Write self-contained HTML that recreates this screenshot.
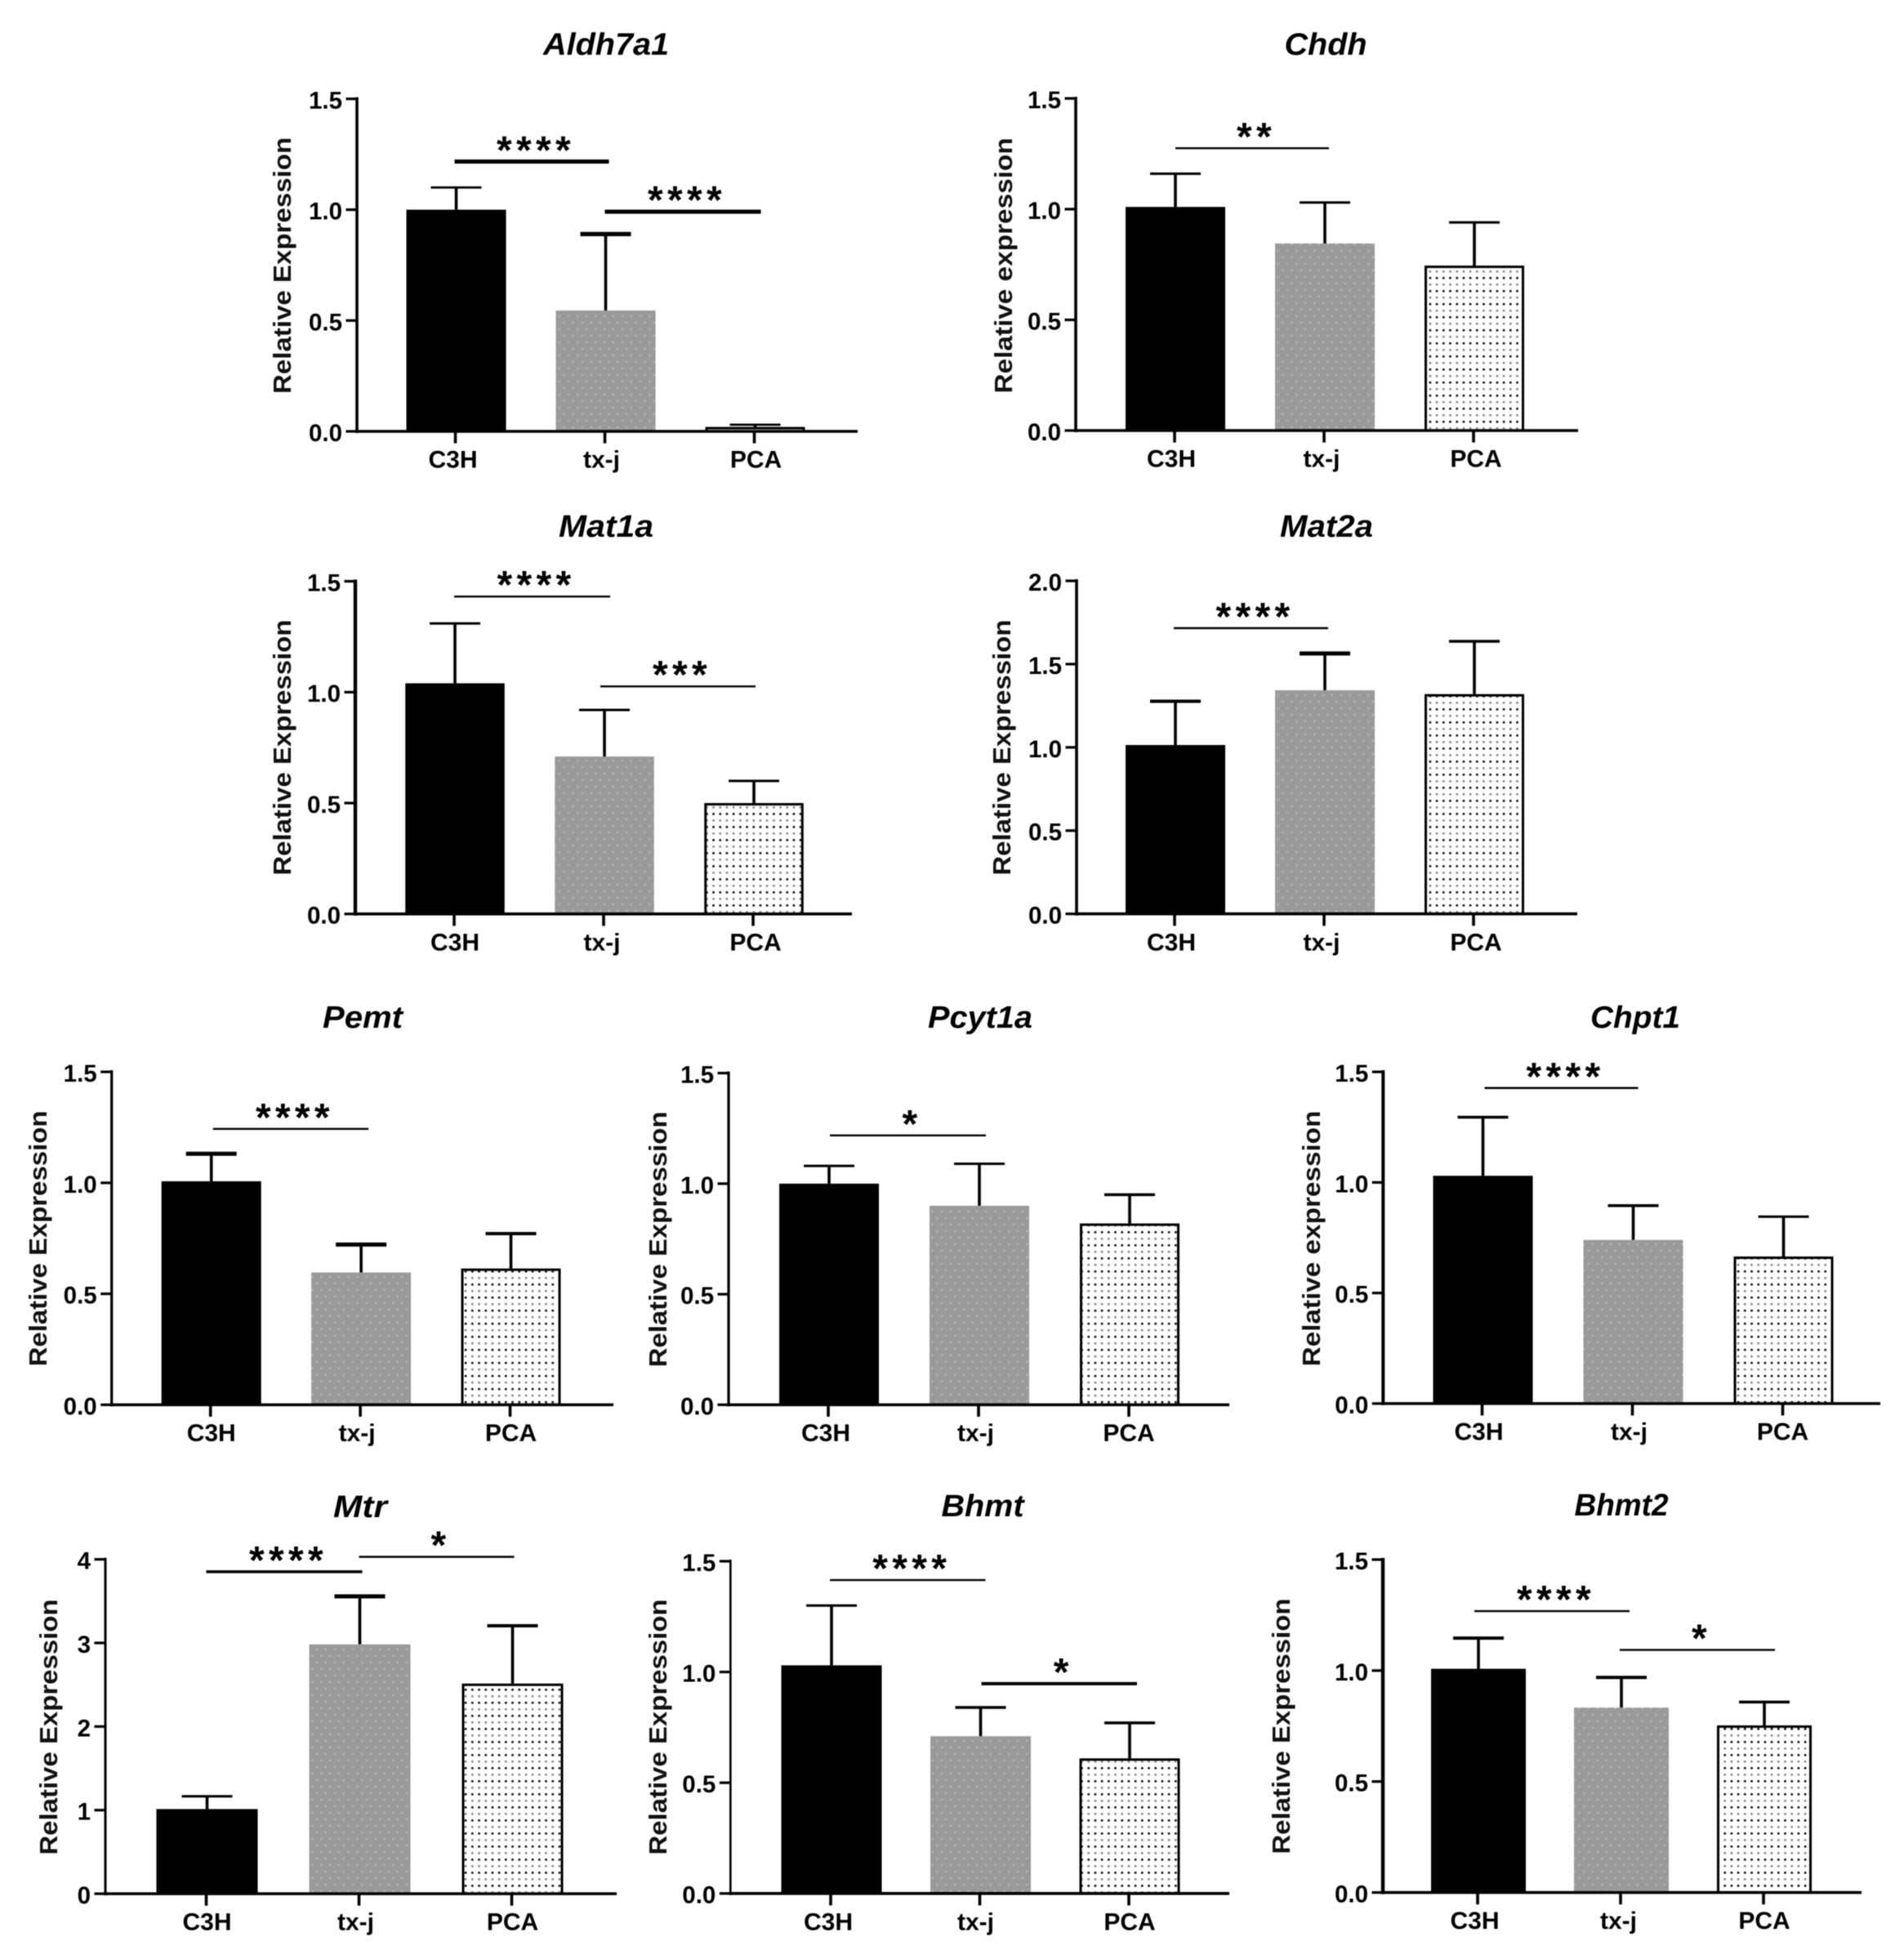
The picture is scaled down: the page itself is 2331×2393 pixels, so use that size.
<!DOCTYPE html>
<html lang="en">
<head>
<meta charset="utf-8">
<title>Relative expression of one-carbon metabolism genes</title>
<style>
html,body{margin:0;padding:0;background:#fff;}
svg{display:block;filter:blur(0.5px);}
text{font-family:"Liberation Sans",Arial,sans-serif;fill:#000;}
.t{font-weight:bold;font-style:italic;font-size:38px;text-anchor:middle;}
.yt{font-weight:bold;font-size:31px;text-anchor:middle;fill:#111;}
</style>
</head>
<body>
<svg id="figure" xmlns="http://www.w3.org/2000/svg" width="2331" height="2393" viewBox="0 0 2331 2393">
  <defs>
    <pattern id="greyDots" patternUnits="userSpaceOnUse" width="11" height="16">
      <rect width="11" height="16" fill="#9a9a9a"/>
      <rect x="2" y="2" width="2" height="2" fill="#bcbcbc"/>
      <rect x="7.5" y="10" width="2" height="2" fill="#bcbcbc"/>
    </pattern>
    <pattern id="blackDots" patternUnits="userSpaceOnUse" width="8.2" height="16">
      <rect width="8.2" height="16" fill="#fff"/>
      <rect x="3" y="3" width="2.6" height="2.6" fill="#111"/>
      <rect x="3" y="11" width="2.6" height="2.6" fill="#888"/>
    </pattern>
  </defs>
  <rect width="2331" height="2393" fill="#fff"/>

  <g id="panel-aldh7a1">
    <text class="t" x="742" y="67" textLength="154" lengthAdjust="spacingAndGlyphs">Aldh7a1</text>
    <text class="yt" transform="translate(356,325) rotate(-90)" textLength="314" lengthAdjust="spacingAndGlyphs">Relative Expression</text>
  </g>
  <g id="panel-chdh">
    <text class="t" x="1623" y="67" textLength="101" lengthAdjust="spacingAndGlyphs">Chdh</text>
    <text class="yt" transform="translate(1239,325) rotate(-90)" textLength="313" lengthAdjust="spacingAndGlyphs">Relative expression</text>
  </g>
  <g id="panel-mat1a">
    <text class="t" x="742" y="657" textLength="116" lengthAdjust="spacingAndGlyphs">Mat1a</text>
    <text class="yt" transform="translate(356,915) rotate(-90)" textLength="313" lengthAdjust="spacingAndGlyphs">Relative Expression</text>
  </g>
  <g id="panel-mat2a">
    <text class="t" x="1624" y="657" textLength="114" lengthAdjust="spacingAndGlyphs">Mat2a</text>
    <text class="yt" transform="translate(1237,915) rotate(-90)" textLength="313" lengthAdjust="spacingAndGlyphs">Relative Expression</text>
  </g>
  <g id="panel-pemt">
    <text class="t" x="444" y="1258" textLength="98" lengthAdjust="spacingAndGlyphs">Pemt</text>
    <text class="yt" transform="translate(57,1516) rotate(-90)" textLength="313" lengthAdjust="spacingAndGlyphs">Relative Expression</text>
  </g>
  <g id="panel-pcyt1a">
    <text class="t" x="1200" y="1258" textLength="128" lengthAdjust="spacingAndGlyphs">Pcyt1a</text>
    <text class="yt" transform="translate(816,1517) rotate(-90)" textLength="313" lengthAdjust="spacingAndGlyphs">Relative Expression</text>
  </g>
  <g id="panel-chpt1">
    <text class="t" x="2002" y="1258" textLength="110" lengthAdjust="spacingAndGlyphs">Chpt1</text>
    <text class="yt" transform="translate(1616,1516) rotate(-90)" textLength="313" lengthAdjust="spacingAndGlyphs">Relative expression</text>
  </g>
  <g id="panel-mtr">
    <text class="t" x="441" y="1857" textLength="66" lengthAdjust="spacingAndGlyphs">Mtr</text>
    <text class="yt" transform="translate(70,2114) rotate(-90)" textLength="313" lengthAdjust="spacingAndGlyphs">Relative Expression</text>
  </g>
  <g id="panel-bhmt">
    <text class="t" x="1203" y="1856" textLength="101" lengthAdjust="spacingAndGlyphs">Bhmt</text>
    <text class="yt" transform="translate(816,2114) rotate(-90)" textLength="313" lengthAdjust="spacingAndGlyphs">Relative Expression</text>
  </g>
  <g id="panel-bhmt2">
    <text class="t" x="1985" y="1855" textLength="115" lengthAdjust="spacingAndGlyphs">Bhmt2</text>
    <text class="yt" transform="translate(1579,2113) rotate(-90)" textLength="313" lengthAdjust="spacingAndGlyphs">Relative Expression</text>
  </g>
</svg>
<script>
// ---- chart data ----
const categories = ["C3H", "tx-j", "PCA"];
const ticks15 = ["0.0", "0.5", "1.0", "1.5"];
const ticks20 = ["0.0", "0.5", "1.0", "1.5", "2.0"];
const ticks4 = ["0", "1", "2", "3", "4"];

const aldh7a1Means = [1.0, 0.545, 0.02];
const aldh7a1ErrorTops = [1.10, 0.89, 0.03];
const aldh7a1SigLevels = [1.217, 0.991];
const aldh7a1SigLabels = ["****", "****"];

const chdhMeans = [1.01, 0.845, 0.745];
const chdhErrorTops = [1.16, 1.03, 0.94];
const chdhSigLevels = [1.275];
const chdhSigLabels = ["**"];

const mat1aMeans = [1.04, 0.71, 0.50];
const mat1aErrorTops = [1.31, 0.92, 0.60];
const mat1aSigLevels = [1.431, 1.026];
const mat1aSigLabels = ["****", "***"];

const mat2aMeans = [1.014, 1.343, 1.32];
const mat2aErrorTops = [1.277, 1.564, 1.637];
const mat2aSigLevels = [1.716];
const mat2aSigLabels = ["****"];

const pemtMeans = [1.007, 0.596, 0.614];
const pemtErrorTops = [1.131, 0.722, 0.771];
const pemtSigLevels = [1.243];
const pemtSigLabels = ["****"];

const pcyt1aMeans = [1.0, 0.90, 0.82];
const pcyt1aErrorTops = [1.08, 1.09, 0.95];
const pcyt1aSigLevels = [1.218];
const pcyt1aSigLabels = ["*"];

const chpt1Means = [1.03, 0.74, 0.665];
const chpt1ErrorTops = [1.295, 0.895, 0.845];
const chpt1SigLevels = [1.427];
const chpt1SigLabels = ["****"];

const mtrMeans = [1.013, 2.983, 2.514];
const mtrErrorTops = [1.165, 3.557, 3.205];
const mtrSigLevels = [3.852, 4.03];
const mtrSigLabels = ["****", "*"];

const bhmtMeans = [1.03, 0.71, 0.61];
const bhmtErrorTops = [1.30, 0.84, 0.77];
const bhmtSigLevels = [1.415, 0.947];
const bhmtSigLabels = ["****", "*"];

const bhmt2Means = [1.008, 0.833, 0.753];
const bhmt2ErrorTops = [1.146, 0.969, 0.858];
const bhmt2SigLevels = [1.268, 1.093];
const bhmt2SigLabels = ["****", "*"];

// ---- panel wiring: data references plus layout frame ----
const panels = [
  {id:"panel-aldh7a1", means:aldh7a1Means, errs:aldh7a1ErrorTops, sigL:aldh7a1SigLevels, sigT:aldh7a1SigLabels, ticks:ticks15, pairs:[[0,1],[1,2]], frame:{ax:437,top:121,y0:528,right:1050,x0:558.5,step:183,bw:122,aw:3.6,off:[[-2,4],[-1,7]],sw:[5,5],caps:[2.7,5.3,2.7],lo:[-4,-5,1]}},
  {id:"panel-chdh", means:chdhMeans, errs:chdhErrorTops, sigL:chdhSigLevels, sigT:chdhSigLabels, ticks:ticks15, pairs:[[0,1]], frame:{ax:1317,top:120.5,y0:527,right:1932,x0:1439,step:183,bw:122,aw:3.6,off:[[0,5]],sw:[2.4],caps:[3,3,3],lo:[-5,-4,2]}},
  {id:"panel-mat1a", means:mat1aMeans, errs:mat1aErrorTops, sigL:mat1aSigLevels, sigT:mat1aSigLabels, ticks:ticks15, pairs:[[0,1],[1,2]], frame:{ax:435,top:711.5,y0:1118.7,right:1043,x0:557,step:183,bw:121.5,aw:4.4,off:[[-1,7],[-5,2]],sw:[2.4,2.4],caps:[3,3,3],lo:[0,-3,2]}},
  {id:"panel-mat2a", means:mat2aMeans, errs:mat2aErrorTops, sigL:mat2aSigLevels, sigT:mat2aSigLabels, ticks:ticks20, pairs:[[0,1]], frame:{ax:1318,top:711,y0:1118.6,right:1931,x0:1439,step:183,bw:122,aw:3.6,off:[[-2,4]],sw:[2.4],caps:[4,5,3.5],lo:[-5,-4,2]}},
  {id:"panel-pemt", means:pemtMeans, errs:pemtErrorTops, sigL:pemtSigLevels, sigT:pemtSigLabels, ticks:ticks15, pairs:[[0,1]], frame:{ax:136.7,top:1312,y0:1719.5,right:751,x0:258.7,step:183.4,bw:122,aw:3.2,off:[[2,9]],sw:[2.4],caps:[5,5,4],lo:[0,-5,0]}},
  {id:"panel-pcyt1a", means:pcyt1aMeans, errs:pcyt1aErrorTops, sigL:pcyt1aSigLevels, sigT:pcyt1aSigLabels, ticks:ticks15, pairs:[[0,1]], frame:{ax:892,top:1313.5,y0:1719.5,right:1505,x0:1015,step:184,bw:122,aw:3.2,off:[[1,8]],sw:[2.4],caps:[3,3,3.5],lo:[-4,-4.5,-1]}},
  {id:"panel-chpt1", means:chpt1Means, errs:chpt1ErrorTops, sigL:chpt1SigLevels, sigT:chpt1SigLabels, ticks:ticks15, pairs:[[0,1]], frame:{ax:1693.3,top:1312,y0:1718,right:2302,x0:1815.5,step:184,bw:122,aw:4,off:[[2,6]],sw:[2.4],caps:[3.5,3.5,3],lo:[-5,-5,-1]}},
  {id:"panel-mtr", means:mtrMeans, errs:mtrErrorTops, sigL:mtrSigLevels, sigT:mtrSigLabels, ticks:ticks4, pairs:[[0,1],[1,2]], frame:{ax:129,top:1908.7,y0:2318,right:755,x0:253.5,step:187,bw:124,aw:3,off:[[-1,3],[-1,2]],sw:[3.5,2.4],caps:[3,5,4],lo:[0,-5,0]}},
  {id:"panel-bhmt", means:bhmtMeans, errs:bhmtErrorTops, sigL:bhmtSigLevels, sigT:bhmtSigLabels, ticks:ticks15, pairs:[[0,1],[1,2]], frame:{ax:894.3,top:1911,y0:2317.7,right:1505,x0:1018,step:182.5,bw:123,aw:2.6,off:[[-2,6],[1,9]],sw:[2.4,4],caps:[3,3.5,3.5],lo:[-4,-6,0]}},
  {id:"panel-bhmt2", means:bhmt2Means, errs:bhmt2ErrorTops, sigL:bhmt2SigLevels, sigT:bhmt2SigLabels, ticks:ticks15, pairs:[[0,1],[1,2]], frame:{ax:1693,top:1909,y0:2316.5,right:2279,x0:1810,step:175,bw:116,aw:4.4,off:[[-5,10],[-2,13]],sw:[2.4,2.4],caps:[4,4,3.5],lo:[-4.5,-3.5,0]}}
];

const fills = ["#000", "url(#greyDots)", "url(#blackDots)"];
const NS = "http://www.w3.org/2000/svg";

function mk(parent, tag, attrs) {
  const el = document.createElementNS(NS, tag);
  for (const k in attrs) el.setAttribute(k, attrs[k]);
  parent.appendChild(el);
  return el;
}

panels.forEach(function (p) {
  const g = document.getElementById(p.id);
  const f = p.frame;
  const yMax = parseFloat(p.ticks[p.ticks.length - 1]);
  const yScale = function (v) { return f.y0 - (v / yMax) * (f.y0 - f.top); };
  const xScale = function (i) { return f.x0 + i * f.step; };

  // bars and error bars
  p.means.forEach(function (m, i) {
    const cx = xScale(i);
    const yb = yScale(m);
    const yt = yScale(p.errs[i]);

    const stem = mk(g, "line", {x1: cx, x2: cx, y1: yb, y2: yt, stroke: "#000", "stroke-width": 3.6});
    
    

    const cap = mk(g, "line", {x1: cx - 31, x2: cx + 31, y1: yt, y2: yt, stroke: "#000", "stroke-width": f.caps[i]});
    
    

    const isOutlined = i === 2;
    const bar = mk(g, "rect", {
      x: cx - f.bw / 2 + (isOutlined ? 1.5 : 0),
      y: yb + (isOutlined ? 1.5 : 0),
      width: f.bw - (isOutlined ? 3 : 0),
      height: Math.max(0, f.y0 - yb - (isOutlined ? 1.5 : 0)),
      fill: fills[i],
      stroke: isOutlined ? "#000" : "none",
      "stroke-width": isOutlined ? 3 : 0
    });
    
    
  });

  // y axis
  const yAxis = mk(g, "line", {x1: f.ax, x2: f.ax, y1: f.top - 2, y2: f.y0 + 2, stroke: "#000", "stroke-width": f.aw});
  
  

  p.ticks.forEach(function (label) {
    const v = parseFloat(label);
    const y = yScale(v);
    const tick = mk(g, "line", {x1: f.ax - 13.5, x2: f.ax, y1: y, y2: y, stroke: "#000", "stroke-width": 3.2});
    
    

    const t = mk(g, "text", {x: f.ax - 18, y: y + 12, "text-anchor": "end", "font-weight": "bold", "font-size": 29.5, fill: "#111"});
    t.textContent = label;
    
    
  });

  // x axis
  const xAxis = mk(g, "line", {x1: f.ax - 2, x2: f.right, y1: f.y0, y2: f.y0, stroke: "#000", "stroke-width": 3.6});
  
  

  categories.forEach(function (c, i) {
    const x = xScale(i);
    const tick = mk(g, "line", {x1: x - 1, x2: x - 1, y1: f.y0, y2: f.y0 + 14.6, stroke: "#000", "stroke-width": 3.6});
    
    

    const t = mk(g, "text", {x: x + f.lo[i], y: f.y0 + 44.7, "text-anchor": "middle", "font-weight": "bold", "font-size": 30, fill: "#111"});
    t.textContent = c;
    
    
  });

  // significance brackets
  p.sigL.forEach(function (level, k) {
    const pair = p.pairs[k];
    const off = f.off[k];
    const x1 = xScale(pair[0]) + off[0];
    const x2 = xScale(pair[1]) + off[1];
    const y = yScale(level);
    const line = mk(g, "line", {x1: x1, x2: x2, y1: y, y2: y, stroke: "#000", "stroke-width": f.sw[k]});
    
    

    const s = mk(g, "text", {x: (x1 + x2) / 2 + 5, y: y + 2, "text-anchor": "middle", "font-weight": "bold", "font-size": 48, "letter-spacing": 5.3, fill: "#111"});
    s.textContent = p.sigT[k];
    
    
  });
});
</script>
</body>
</html>
